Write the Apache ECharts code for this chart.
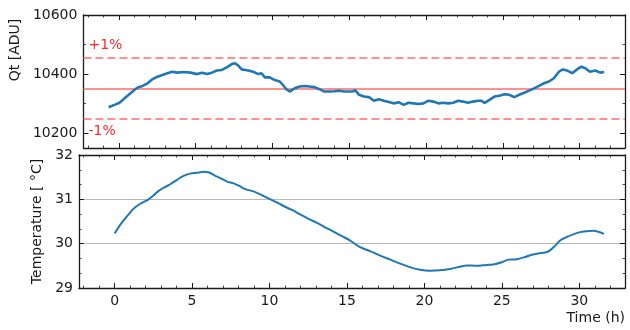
<!DOCTYPE html>
<html>
<head>
<meta charset="utf-8">
<script src="https://cdn.jsdelivr.net/npm/echarts@6/dist/echarts.min.js"></script>
<style>
  html, body { margin: 0; padding: 0; background: #fff; }
  #chart { width: 630px; height: 330px; }
</style>
</head>
<body>
<div id="chart"></div>
<script>
// Qt readout (ADU) against time (h)
const qtTime = [
  -0.66, -0.28, 0.05, 0.37, 0.69, 1.01, 1.23, 1.55, 1.87, 2.19, 2.52, 2.84, 3.16, 3.48, 3.81,
  4.24, 4.67, 5.10, 5.42, 5.74, 6.06, 6.39, 6.71, 7.03, 7.35, 7.57, 7.79, 8.00, 8.43, 8.75,
  9.08, 9.29, 9.51, 9.83, 10.15, 10.48, 10.69, 10.90, 11.12, 11.45, 11.77, 12.09, 12.41, 12.74,
  13.06, 13.38, 13.70, 14.03, 14.35, 14.67, 14.99, 15.21, 15.38, 15.64, 15.96, 16.28, 16.61,
  16.93, 17.25, 17.57, 17.90, 18.22, 18.54, 18.86, 19.19, 19.51, 19.83, 20.15, 20.48, 20.80,
  21.12, 21.45, 21.77, 22.09, 22.41, 22.74, 23.06, 23.38, 23.59, 23.81, 24.13, 24.45, 24.77,
  25.10, 25.42, 25.74, 26.06, 26.39, 26.71, 27.03, 27.35, 27.68, 28.00, 28.32, 28.65, 28.90,
  29.19, 29.51, 29.83, 30.11, 30.37, 30.66, 31.01, 31.34, 31.59
];
const qtValue = [
  10288, 10296, 10303, 10318, 10332, 10346, 10355, 10360, 10369, 10383, 10391, 10397, 10403, 10408, 10405,
  10407, 10405, 10400, 10405, 10400, 10405, 10412, 10414, 10423, 10434, 10437, 10428, 10416, 10412, 10408,
  10400, 10403, 10389, 10389, 10380, 10375, 10363, 10349, 10341, 10352, 10358, 10360, 10358, 10356,
  10349, 10341, 10341, 10342, 10344, 10341, 10341, 10341, 10346, 10330, 10324, 10322, 10310,
  10315, 10310, 10306, 10301, 10305, 10296, 10303, 10301, 10299, 10301, 10310, 10307, 10301,
  10303, 10301, 10303, 10310, 10307, 10303, 10307, 10310, 10310, 10303, 10313, 10324, 10327,
  10332, 10330, 10322, 10330, 10337, 10344, 10352, 10360, 10369, 10375, 10386, 10408, 10416,
  10412, 10403, 10416, 10425, 10420, 10408, 10412, 10405, 10407
];

// Temperature (°C) against time (h)
const tempTime = [
  0.00, 0.37, 0.80, 1.23, 1.66, 2.19, 2.52, 2.84, 3.27, 3.59, 4.03, 4.45, 4.88, 5.32, 5.74,
  6.06, 6.50, 6.82, 7.25, 7.68, 8.11, 8.43, 8.86, 9.29, 9.83, 10.37, 10.90, 11.45, 11.98,
  12.52, 13.06, 13.59, 14.13, 14.67, 15.21, 15.85, 16.50, 17.14, 17.79, 18.43, 19.06, 19.72,
  20.37, 21.01, 21.66, 22.30, 22.74, 23.38, 24.03, 24.45, 24.99, 25.42, 25.96, 26.50, 26.93,
  27.35, 27.79, 28.11, 28.43, 28.76, 29.19, 29.61, 30.05, 30.48, 30.90, 31.23, 31.59
];
const tempValue = [
  30.23, 30.43, 30.62, 30.79, 30.90, 31.00, 31.09, 31.19, 31.28, 31.34, 31.44, 31.53, 31.58, 31.60, 31.62,
  31.61, 31.53, 31.48, 31.40, 31.36, 31.29, 31.23, 31.19, 31.13, 31.04, 30.95, 30.85, 30.76, 30.66,
  30.56, 30.47, 30.37, 30.27, 30.17, 30.07, 29.92, 29.83, 29.73, 29.64, 29.55, 29.47, 29.41,
  29.39, 29.40, 29.43, 29.48, 29.51, 29.50, 29.52, 29.53, 29.58, 29.64, 29.65, 29.70, 29.75,
  29.78, 29.80, 29.85, 29.95, 30.07, 30.15, 30.21, 30.26, 30.28, 30.29, 30.27, 30.22
];

// Reference level and its ±1% band
const qtReference = 10352;
const bandPercent = 1;
const bandLabels = ['+1%', '-1%'];

// Axis extents
const timeRange = [-2.3, 32.95];
const qtRange = [10150, 10600];
const tempRange = [29, 32];

const qtUpper = qtReference * (1 + bandPercent / 100);
const qtLower = qtReference * (1 - bandPercent / 100);

const FONT = 'DejaVu Sans';
const INK = '#1a1a1a';
const BLUE = '#1f77b4';
const BAND = '#ff6b6b';

function frameAxis(extra) {
  return Object.assign({
    type: 'value',
    axisLine: { show: true, onZero: false, lineStyle: { color: INK, width: 1.3 } },
    axisTick: { show: true, inside: true, length: 5, lineStyle: { color: INK, width: 1 } },
    minorTick: { show: true, length: 2.5, lineStyle: { color: INK, width: 0.8 } },
    axisLabel: { show: false },
    splitLine: { show: false },
    minorSplitLine: { show: false }
  }, extra);
}

function timeAxis(gridIndex, position, withLabels) {
  const ax = frameAxis({
    gridIndex, position,
    min: timeRange[0], max: timeRange[1],
    splitNumber: 7
  });
  ax.minorTick.splitNumber = 5;
  if (withLabels) {
    ax.axisLabel = {
      show: true, showMinLabel: false, showMaxLabel: false,
      color: INK, fontSize: 14, fontFamily: FONT, margin: 6
    };
    ax.name = 'Time (h)';
    ax.nameLocation = 'end';
    ax.nameGap = 0;
    ax.nameTextStyle = {
      color: INK, fontSize: 14, fontFamily: FONT,
      align: 'right', verticalAlign: 'top', padding: [23, 0, 0, 0]
    };
  }
  return ax;
}

const qtLeft = frameAxis({
  gridIndex: 0, position: 'left',
  min: qtRange[0], max: qtRange[1], splitNumber: 2,
  axisLabel: {
    show: true, showMinLabel: false, color: INK, fontSize: 14, fontFamily: FONT, margin: 6,
    formatter: v => String(v)
  },
  name: 'Qt [ADU]', nameLocation: 'middle', nameGap: 55,
  nameTextStyle: { color: INK, fontSize: 14, fontFamily: FONT, padding: [0, 0, 0, 63] }
});
qtLeft.minorTick.splitNumber = 2;
const qtRight = frameAxis({
  gridIndex: 0, position: 'right',
  min: qtRange[0], max: qtRange[1], splitNumber: 2
});
qtRight.minorTick.splitNumber = 2;

const tempLeft = frameAxis({
  gridIndex: 1, position: 'left',
  min: tempRange[0], max: tempRange[1], interval: 1,
  axisLabel: { show: true, color: INK, fontSize: 14, fontFamily: FONT, margin: 6 },
  splitLine: { show: true, lineStyle: { color: '#b8b8b8', width: 1.2 } },
  name: 'Temperature [ °C]', nameLocation: 'middle', nameGap: 29,
  nameTextStyle: { color: INK, fontSize: 14, fontFamily: FONT }
});
tempLeft.minorTick.splitNumber = 3;
const tempRight = frameAxis({
  gridIndex: 1, position: 'right',
  min: tempRange[0], max: tempRange[1], interval: 1
});
tempRight.minorTick.splitNumber = 3;

const bandLabelStyle = {
  show: true, color: '#ff2a2a', fontSize: 14, fontFamily: FONT, distance: 5
};

const option = {
  animation: false,
  backgroundColor: '#fff',
  grid: [
    { left: 79, right: 5, top: 15, height: 133 },
    { left: 79, right: 5, top: 155, height: 133 }
  ],
  xAxis: [
    timeAxis(0, 'bottom', false),
    timeAxis(0, 'top', false),
    timeAxis(1, 'bottom', true),
    timeAxis(1, 'top', false)
  ],
  yAxis: [qtLeft, qtRight, tempLeft, tempRight],
  series: [
    {
      type: 'line', xAxisIndex: 0, yAxisIndex: 0,
      data: qtTime.map((t, i) => [t, qtValue[i]]),
      showSymbol: false, z: 3,
      lineStyle: { color: BLUE, width: 2.6 },
      markLine: {
        silent: true, symbol: 'none', z: 1, animation: false,
        lineStyle: { color: BAND, width: 1.6 },
        label: { show: false },
        data: [
          { yAxis: qtReference, lineStyle: { type: 'solid' } },
          { yAxis: qtUpper, lineStyle: { type: [8, 4] },
            label: Object.assign({ formatter: bandLabels[0], position: 'insideStartTop' }, bandLabelStyle) },
          { yAxis: qtLower, lineStyle: { type: [8, 4] },
            label: Object.assign({ formatter: bandLabels[1], position: 'insideStartBottom' }, bandLabelStyle) }
        ]
      }
    },
    {
      type: 'line', xAxisIndex: 2, yAxisIndex: 2,
      data: tempTime.map((t, i) => [t, tempValue[i]]),
      showSymbol: false, smooth: 0.3,
      lineStyle: { color: BLUE, width: 2 }
    }
  ]
};

const chart = echarts.init(document.getElementById('chart'), null, { renderer: 'canvas' });
chart.setOption(option);
</script>
</body>
</html>
